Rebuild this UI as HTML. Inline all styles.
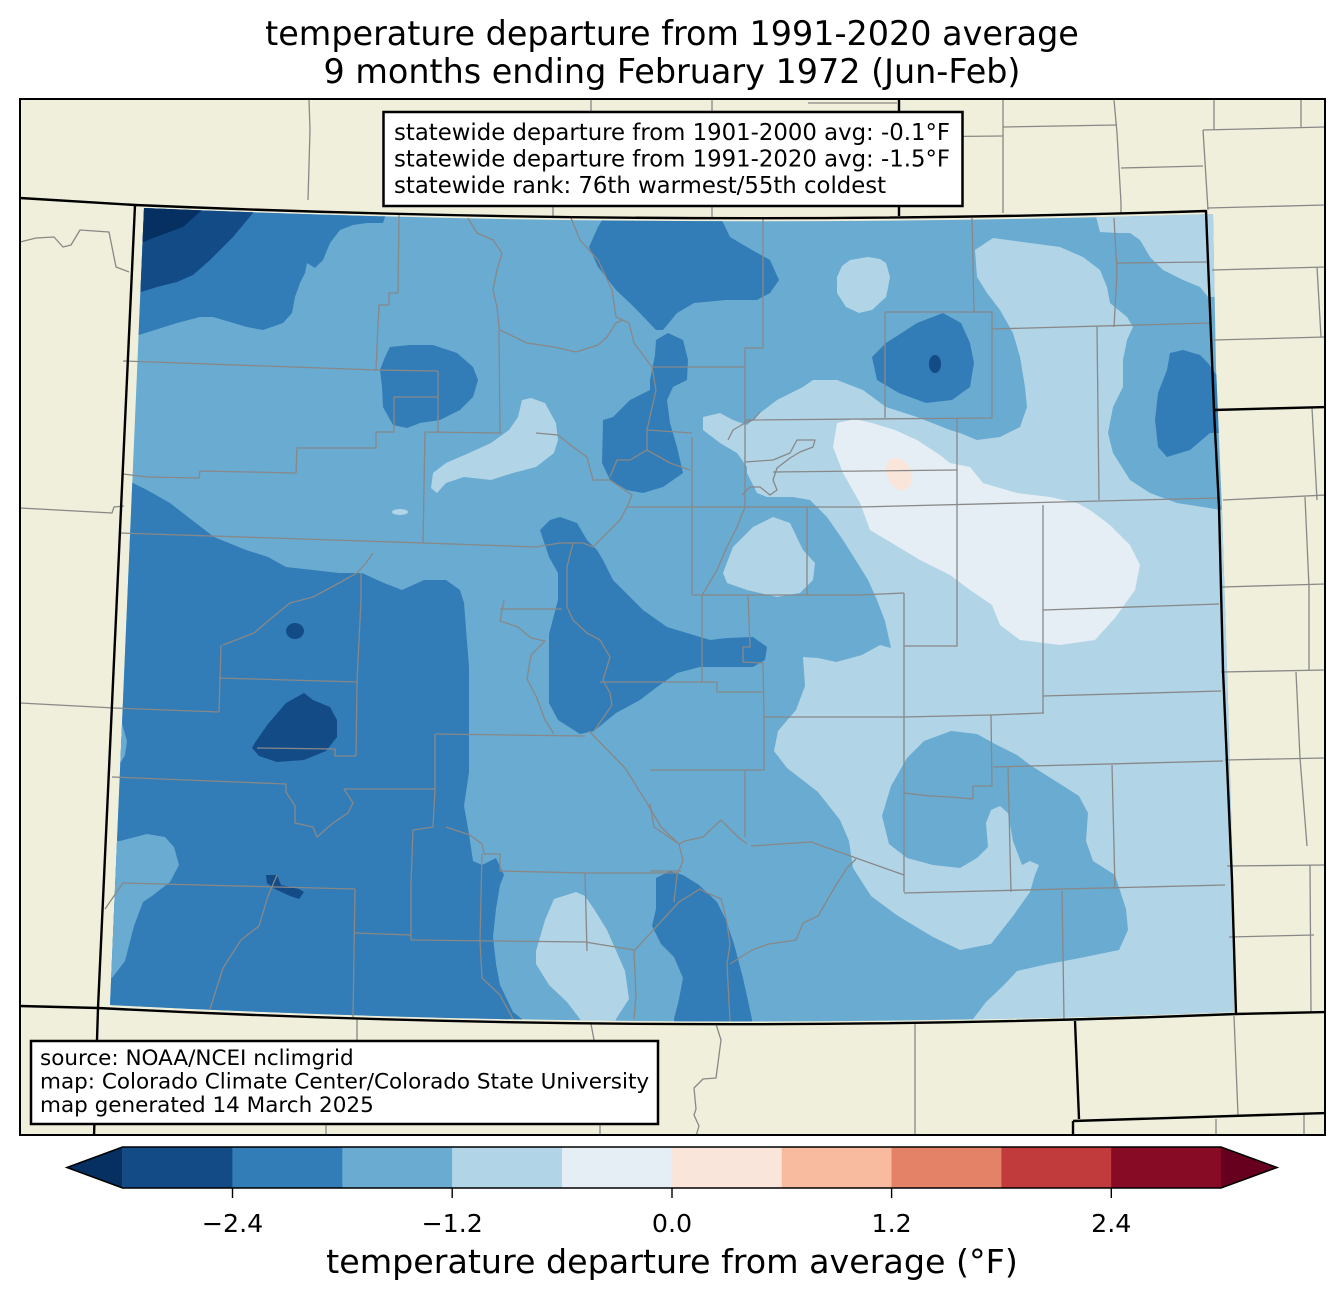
<!DOCTYPE html>
<html><head><meta charset="utf-8"><style>
html,body{margin:0;padding:0;background:#fff;}
svg{display:block;font-family:"DejaVu Sans","Liberation Sans",sans-serif;}
</style></head><body>
<svg width="1344" height="1299" viewBox="0 0 1344 1299" xmlns="http://www.w3.org/2000/svg">
<defs>
<clipPath id="frame"><rect x="20" y="99" width="1305" height="1036"/></clipPath>
<clipPath id="data"><path d="M144,208 Q670,231 1213,214 L1216,367 L1222,510 L1228,700 L1233,880 L1234,1012 Q667,1034 110,1005 Z"/></clipPath>
</defs>
<rect width="1344" height="1299" fill="#fff"/>
<text x="672" y="45" font-size="33.4" text-anchor="middle">temperature departure from 1991-2020 average</text>
<text x="672" y="83" font-size="33.4" text-anchor="middle">9 months ending February 1972 (Jun-Feb)</text>
<rect x="20" y="99" width="1305" height="1036" fill="#efefdb"/>
<g clip-path="url(#data)" stroke="none">
<rect x="90" y="200" width="1160" height="840" fill="#6aabd1"/>
<g fill="#b1d4e7">
<polygon points="975,250 993,238 1030,243 1060,247 1083,257 1100,270 1107,287 1110,303 1127,317 1133,327 1127,340 1123,360 1123,387 1113,407 1108,433 1113,453 1130,480 1150,493 1177,503 1222,510 1228,700 1233,880 1240,1040 973,1040 973,1019 986,1002 1004,985 1017,971 1048,964 1075,959 1119,950 1128,930 1126,909 1115,875 1093,861 1086,841 1088,813 1079,796 1057,782 1030,765 1017,755 995,744 977,734 951,731 924,741 907,758 891,786 882,816 889,844 907,858 933,865 960,868 977,858 988,847 986,823 991,810 1000,806 1008,813 1013,841 1022,865 1030,861 1039,865 1035,875 1030,892 1013,916 991,944 960,950 933,937 898,916 871,896 853,868 849,841 840,820 818,792 787,768 774,751 778,731 796,710 805,686 803,657 818,658 836,662 862,655 880,645 891,648 885,621 877,600 868,580 860,567 843,540 827,517 810,500 793,497 767,497 757,493 747,473 747,467 737,453 720,443 703,430 703,417 720,413 733,420 747,425 760,413 777,400 803,387 813,380 837,380 863,390 886,407 917,417 950,430 960,433 977,440 1000,437 1020,427 1027,407 1025,387 1020,357 1013,333 1000,310 987,293 977,277"/>
<polygon points="1093,205 1225,205 1225,297 1208,297 1200,287 1183,280 1163,270 1150,257 1140,240 1130,233 1117,233 1100,232"/>
<polygon points="837,277 842,266 850,260 868,257 880,259 886,263 890,277 888,288 886,297 872,310 859,313 846,307 837,293"/>
<polygon points="522,400 531,398 545,403 556,423 558,440 554,453 536,467 513,473 491,480 464,477 446,483 437,493 431,488 433,473 446,463 469,453 491,443 509,430 518,417"/>
<ellipse cx="400" cy="512" rx="8" ry="3"/>
<polygon points="576,892 554,899 545,920 536,951 536,964 549,985 567,1002 580,1019 585,1040 612,1040 616,1019 629,999 625,971 607,930 594,909 585,896"/>
<polygon points="723,573 733,547 753,527 773,517 790,523 803,550 815,563 813,580 800,593 777,597 747,590 727,583"/>
</g>
<polygon fill="#e4eef4" points="837,423 855,419 872,423 895,430 917,440 940,455 950,463 970,467 983,483 1017,493 1050,497 1077,503 1090,510 1110,525 1130,545 1140,565 1135,590 1115,618 1095,640 1060,645 1020,640 1000,625 992,605 970,590 950,575 920,560 895,545 870,530 860,503 843,473 833,447"/>
<ellipse cx="899" cy="474" rx="12" ry="17" transform="rotate(-25 899 474)" fill="#f9e5da"/>
<g fill="#327db7">
<polygon points="130,200 385,200 385,217 383,223 367,223 353,225 340,230 330,243 323,260 315,268 307,263 305,273 300,283 295,297 292,313 283,323 263,330 247,327 213,317 200,317 177,323 139,335 130,335"/>
<polygon points="90,483 133,483 147,490 170,503 188,517 214,537 246,550 268,557 286,567 313,570 339,573 362,573 384,583 402,590 424,580 446,580 460,590 464,603 469,667 469,731 469,772 464,806 469,834 473,861 482,865 496,858 504,875 500,885 496,909 493,937 496,964 500,985 513,1012 522,1019 530,1040 90,1040"/>
<polygon points="560,517 577,523 587,540 597,550 603,560 613,580 630,597 643,610 667,627 687,633 710,640 727,638 753,637 767,647 765,660 753,667 700,667 677,673 657,687 640,700 616,713 594,731 580,734 558,720 549,703 549,634 558,600 558,573 549,557 540,530 550,520"/>
<polygon points="656,340 668,333 683,340 688,360 687,380 673,387 667,400 670,423 677,447 683,473 663,487 643,493 627,490 610,480 602,463 603,420 613,417 630,400 650,390 650,380 655,355"/>
<polygon points="589,247 598,227 608,210 717,210 730,237 752,250 770,260 779,280 770,293 757,300 726,300 694,303 677,313 663,330 656,330 634,307 616,290 598,267"/>
<polygon points="872,357 886,343 917,323 943,313 961,323 970,343 974,363 970,387 952,400 926,403 899,393 877,380"/>
<polygon points="1158,393 1167,370 1170,353 1183,350 1200,355 1208,363 1225,387 1225,433 1210,433 1190,450 1167,457 1158,447 1155,420"/>
<polygon points="390,347 410,345 433,345 457,353 473,367 478,380 473,397 460,410 440,420 420,423 407,428 393,425 383,407 382,387 380,370 385,357"/>
<polygon points="656,878 670,871 683,875 699,885 717,902 726,920 734,944 743,978 752,1019 752,1040 676,1040 674,1019 679,999 683,978 674,957 661,944 652,926 656,909"/>
</g>
<g fill="#6aabd1">
<polygon points="100,841 120,841 147,834 165,837 174,847 179,865 170,882 152,896 143,902 134,926 125,961 112,978 100,978"/>
<polygon points="100,720 121,720 123,727 127,741 125,755 121,762 100,762"/>
</g>
<g fill="#134b87">
<polygon points="130,200 253,200 253,213 233,237 210,260 193,275 177,282 157,287 141,292 130,292"/>
<polygon points="254,744 268,724 286,703 304,693 313,700 330,707 337,720 337,737 326,751 304,760 277,762 259,756 252,748"/>
<ellipse cx="295" cy="631" rx="9" ry="8"/>
<polygon points="266,875 277,875 281,885 299,889 304,892 299,899 290,896 275,889 267,883"/>
<ellipse cx="935" cy="364" rx="6" ry="9"/>
</g>
<polygon fill="#053061" points="130,200 202,200 202,210 183,227 153,238 144,242 130,242"/>
</g>
<g clip-path="url(#frame)" fill="none" stroke="#888" stroke-width="1.3" stroke-linejoin="round">
<polyline points="399,215 398,293 389,293 389,305 379,305 377,347 376,370"/>
<polyline points="123,361 377,370 438,371"/>
<polyline points="438,371 438,432"/>
<polyline points="394,397 438,397"/>
<polyline points="394,397 394,432 376,432 376,448 297,448 296,473 200,471 199,478 147,477 123,474"/>
<polyline points="425,432 502,433"/>
<polyline points="425,432 423,543"/>
<polyline points="499,327 500,433"/>
<polyline points="468,218 477,233 493,240 502,253 497,270 493,290 497,307 499,327"/>
<polyline points="500,330 527,343 554,347 576,352 598,345 607,337 616,323 623,320"/>
<polyline points="571,218 580,240 598,260 612,290 616,317 629,323 634,343 652,367 745,367"/>
<polyline points="652,367 656,390 647,430 647,450 630,460 617,460 610,477"/>
<polyline points="647,430 692,433"/>
<polyline points="647,450 670,463 690,470"/>
<polyline points="536,433 558,435 573,447 587,457 593,480 610,480 632,495 627,507 620,520 603,537 593,547 583,543 560,543 536,547"/>
<polyline points="627,507 692,507 745,507 860,507"/>
<polyline points="120,533 424,543 536,547"/>
<polyline points="373,553 366,563 357,573 339,583 313,597 290,603 268,621 254,633 223,645"/>
<polyline points="361,573 361,600 357,682 356,756"/>
<polyline points="221,645 219,712"/>
<polyline points="219,678 357,682"/>
<polyline points="114,708 219,712"/>
<polyline points="257,748 335,749 335,756 356,756"/>
<polyline points="112,777 286,784 286,792 295,806 295,823 313,827 317,837 333,823 348,813 353,803 344,789 435,789"/>
<polyline points="435,734 435,789 433,827 413,830 411,883 411,940"/>
<polyline points="435,734 585,736"/>
<polyline points="446,827 470,835 482,844 484,854 500,854 500,871 585,873 679,873"/>
<polyline points="482,854 480,940 482,978 500,995 513,1019"/>
<polyline points="411,940 585,942 634,950"/>
<polyline points="585,873 587,951"/>
<polyline points="634,951 679,902 700,889 705,892 721,899 723,906 727,923 730,944 727,964 730,1021"/>
<polyline points="634,951 636,995 634,1019"/>
<polyline points="105,909 123,883 355,889"/>
<polyline points="355,889 353,1017"/>
<polyline points="355,933 411,935"/>
<polyline points="277,875 268,896 259,926 241,940 223,968 210,1009"/>
<polyline points="573,543 567,567 567,607 573,620 587,633 600,640 610,657 603,680 610,693 612,705 594,731"/>
<polyline points="504,600 500,621 518,627 531,638 545,641 531,655 527,679 536,696 545,720 554,734"/>
<polyline points="500,609 562,609"/>
<polyline points="600,682 717,682 717,692 763,692"/>
<polyline points="589,731 625,768 647,803 661,827 679,844 683,861 677,875 674,902"/>
<polyline points="650,804 654,827 679,844 685,841 703,837 721,820 730,829 738,837 747,844"/>
<polyline points="650,871 681,871"/>
<polyline points="730,964 752,950 769,944 796,940 803,923 818,916 836,885 847,868 856,859"/>
<polyline points="745,507 737,527 727,547 717,570 707,587 702,595 702,682"/>
<polyline points="748,595 750,647 743,647 743,662 763,663 764,717"/>
<polyline points="764,717 904,717 991,715 1044,713"/>
<polyline points="764,717 764,770"/>
<polyline points="650,770 764,770"/>
<polyline points="745,770 745,837"/>
<polyline points="751,846 811,842 904,875"/>
<polyline points="904,593 904,892"/>
<polyline points="692,437 692,595 860,595 904,593"/>
<polyline points="807,507 807,595"/>
<polyline points="957,418 957,646 904,646"/>
<polyline points="1043,505 1043,713"/>
<polyline points="1043,610 1219,604"/>
<polyline points="1043,696 1221,691"/>
<polyline points="991,715 992,786 973,786 973,799 950,797 930,796 904,793"/>
<polyline points="993,767 1223,761"/>
<polyline points="1008,767 1011,892"/>
<polyline points="1112,765 1115,889"/>
<polyline points="904,893 1225,885"/>
<polyline points="1062,891 1064,1019"/>
<polyline points="972,218 974,312"/>
<polyline points="992,329 1210,323"/>
<polyline points="1114,218 1117,272 1114,327"/>
<polyline points="1117,263 1208,262"/>
<polyline points="1097,327 1099,500"/>
<polyline points="860,507 1219,498"/>
<polyline points="885,312 992,312 992,418 745,420"/>
<polyline points="885,312 885,418"/>
<polyline points="763,217 763,348 745,348 745,507"/>
<polyline points="773,472 957,470"/>
<polyline points="728,440 733,430 745,423 753,420 760,412"/>
<polyline points="745,462 773,460 790,453 797,440 815,440 813,447 800,452 790,458 777,468 773,480 777,490 770,495 760,487 750,487 742,495"/>
<polyline points="309,100 310,130 308,200"/>
<polyline points="591,100 591,112"/>
<polyline points="553,207 553,216"/>
<polyline points="712,100 712,112"/>
<polyline points="712,207 712,217"/>
<polyline points="808,103 897,103"/>
<polyline points="899,137 1003,136"/>
<polyline points="1003,100 1003,213"/>
<polyline points="1003,127 1117,125"/>
<polyline points="1114,100 1117,133 1121,203 1121,213"/>
<polyline points="1121,168 1203,166"/>
<polyline points="1203,130 1326,127"/>
<polyline points="1203,130 1208,210"/>
<polyline points="1214,100 1214,130"/>
<polyline points="1301,100 1301,127"/>
<polyline points="1208,208 1326,205"/>
<polyline points="1212,270 1326,267"/>
<polyline points="1317,267 1321,337"/>
<polyline points="1214,340 1326,337"/>
<polyline points="1312,408 1317,500"/>
<polyline points="1223,500 1326,495"/>
<polyline points="1305,497 1309,587 1309,670"/>
<polyline points="1222,587 1325,584"/>
<polyline points="1221,672 1325,670"/>
<polyline points="1296,672 1300,758 1307,846"/>
<polyline points="1225,760 1325,758"/>
<polyline points="1227,866 1325,865"/>
<polyline points="1310,865 1311,1012"/>
<polyline points="1229,937 1314,935"/>
<polyline points="1216,1119 1216,1136"/>
<polyline points="1304,1115 1304,1136"/>
<polyline points="1234,1016 1238,1115"/>
<polyline points="915,1024 915,1136"/>
<polyline points="716,1024 721,1040 716,1078 703,1079 694,1088 696,1109 694,1115 699,1126 696,1136"/>
<polyline points="357,1019 357,1040"/>
<polyline points="591,1024 594,1040"/>
<polyline points="600,1124 600,1136"/>
<polyline points="326,1124 326,1136"/>
<polyline points="20,242 36,238 54,237 63,247 71,245 80,230 109,232 112,247 116,267 129,272"/>
<polyline points="20,508 112,513 114,507 124,506"/>
<polyline points="20,703 114,708"/>
</g>
<g clip-path="url(#frame)" fill="none" stroke="#000" stroke-width="2.4" stroke-linejoin="round">
<path d="M135,205 Q670,228 1206,211 L1214,410 L1219,507 L1223,670 L1232,880 L1236,1014 Q667,1037 98,1008 Z"/>
<polyline points="20,198 135,205"/>
<polyline points="899,100 899,216"/>
<polyline points="1214,410 1326,407"/>
<polyline points="20,1006 98,1008"/>
<polyline points="98,1008 94,1136"/>
<polyline points="1236,1014 1326,1012"/>
<polyline points="1075,1021 1079,1119"/>
<polyline points="1073,1121 1326,1113"/>
<polyline points="1073,1121 1073,1136"/>
</g>
<rect x="20" y="99" width="1305" height="1036" fill="none" stroke="#000" stroke-width="2"/>
<rect x="383.5" y="112" width="579" height="94" fill="#fff" stroke="#000" stroke-width="2.5"/>
<g font-size="22.8" fill="#000">
<text x="394" y="140">statewide departure from 1901-2000 avg: -0.1°F</text>
<text x="394" y="166.5">statewide departure from 1991-2020 avg: -1.5°F</text>
<text x="394" y="193">statewide rank: 76th warmest/55th coldest</text>
</g>
<rect x="31" y="1041" width="627" height="83" fill="#fff" stroke="#000" stroke-width="2.5"/>
<g font-size="21.5" fill="#000">
<text x="40" y="1065">source: NOAA/NCEI nclimgrid</text>
<text x="40" y="1088.5">map: Colorado Climate Center/Colorado State University</text>
<text x="40" y="1112">map generated 14 March 2025</text>
</g>
<g stroke="none">
<polygon points="122.6,1147 67,1167.5 122.6,1188" fill="#053061"/>
<rect x="122.6" y="1147" width="110.4" height="41" fill="#134b87"/>
<rect x="232.4" y="1147" width="110.4" height="41" fill="#327db7"/>
<rect x="342.3" y="1147" width="110.4" height="41" fill="#6aabd1"/>
<rect x="452.1" y="1147" width="110.4" height="41" fill="#b1d4e7"/>
<rect x="562" y="1147" width="110.4" height="41" fill="#e4eef4"/>
<rect x="671.8" y="1147" width="110.4" height="41" fill="#f9e5da"/>
<rect x="781.7" y="1147" width="110.4" height="41" fill="#f8bba0"/>
<rect x="891.5" y="1147" width="110.4" height="41" fill="#e48267"/>
<rect x="1001.4" y="1147" width="110.4" height="41" fill="#c13b3d"/>
<rect x="1111.2" y="1147" width="109.8" height="41" fill="#880b26"/>
<polygon points="1221,1147 1277,1167.5 1221,1188" fill="#67001f"/>
</g>
<polygon points="122.6,1147 1221,1147 1277,1167.5 1221,1188 122.6,1188 67,1167.5" fill="none" stroke="#000" stroke-width="1.6"/>
<g stroke="#000" stroke-width="1.4">
<line x1="232.5" y1="1188" x2="232.5" y2="1198"/>
<line x1="452.2" y1="1188" x2="452.2" y2="1198"/>
<line x1="672" y1="1188" x2="672" y2="1198"/>
<line x1="891.6" y1="1188" x2="891.6" y2="1198"/>
<line x1="1111.3" y1="1188" x2="1111.3" y2="1198"/>
</g>
<g font-size="25.3" text-anchor="middle" fill="#000">
<text x="232.5" y="1232">−2.4</text>
<text x="452.2" y="1232">−1.2</text>
<text x="672" y="1232">0.0</text>
<text x="891.6" y="1232">1.2</text>
<text x="1111.3" y="1232">2.4</text>
</g>
<text x="672" y="1273" font-size="33.3" text-anchor="middle">temperature departure from average (°F)</text>
</svg>
</body></html>
